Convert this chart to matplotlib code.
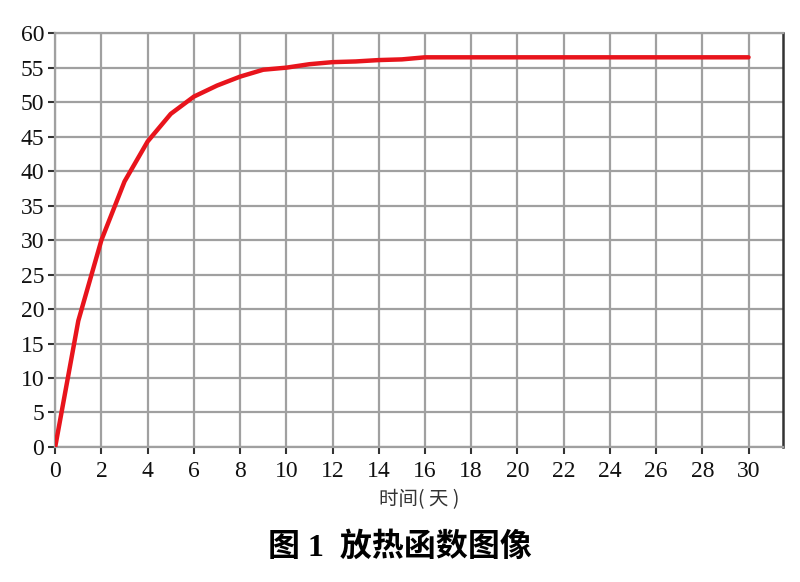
import matplotlib.pyplot as plt

days = list(range(0, 31))
heat = [0, 18.3, 30.0, 38.5, 44.3, 48.3, 50.8, 52.4, 53.7, 54.7,
        55.0, 55.5, 55.8, 55.9, 56.1, 56.2, 56.5, 56.5, 56.5, 56.5,
        56.5, 56.5, 56.5, 56.5, 56.5, 56.5, 56.5, 56.5, 56.5, 56.5, 56.5]
x_ticks = list(range(0, 31, 2))
y_ticks = list(range(0, 61, 5))

plt.rcParams['font.family'] = ['Liberation Serif', 'Noto Sans CJK SC']

fig = plt.figure(figsize=(8, 5.82), dpi=100)
ax = fig.add_axes([0.069, 0.232, 0.91, 0.711])

ax.plot(days, heat, color='#e8141c', linewidth=3.2, solid_capstyle='round', zorder=5)

ax.set_xlim(0, 31.5)
ax.set_ylim(0, 60)
ax.set_xticks(x_ticks)
ax.set_yticks(y_ticks)
ax.grid(True, color='#a0a0a0', linewidth=1.6)
ax.set_axisbelow(True)

for side in ['left', 'top', 'bottom']:
    ax.spines[side].set_color('#a0a0a0')
    ax.spines[side].set_linewidth(1.6)
ax.spines['right'].set_color('#333333')
ax.spines['right'].set_linewidth(1.8)

ax.tick_params(axis='both', direction='out', length=5, width=1.5, color='#333333',
               labelsize=17, labelcolor='#111111')
ax.tick_params(axis='x', pad=5)
ax.tick_params(axis='y', pad=3)

ax.set_xlabel('时间( 天 )', fontsize=14, color='#333333', labelpad=5,
              family=['Noto Sans CJK SC', 'DejaVu Sans'])

fig.text(0.5, 0.06, '图 1  放热函数图像', ha='center', va='center', fontsize=23,
         fontweight='bold', family=['Liberation Serif', 'Noto Sans CJK SC'])

fig.savefig('out.png', dpi=100)
